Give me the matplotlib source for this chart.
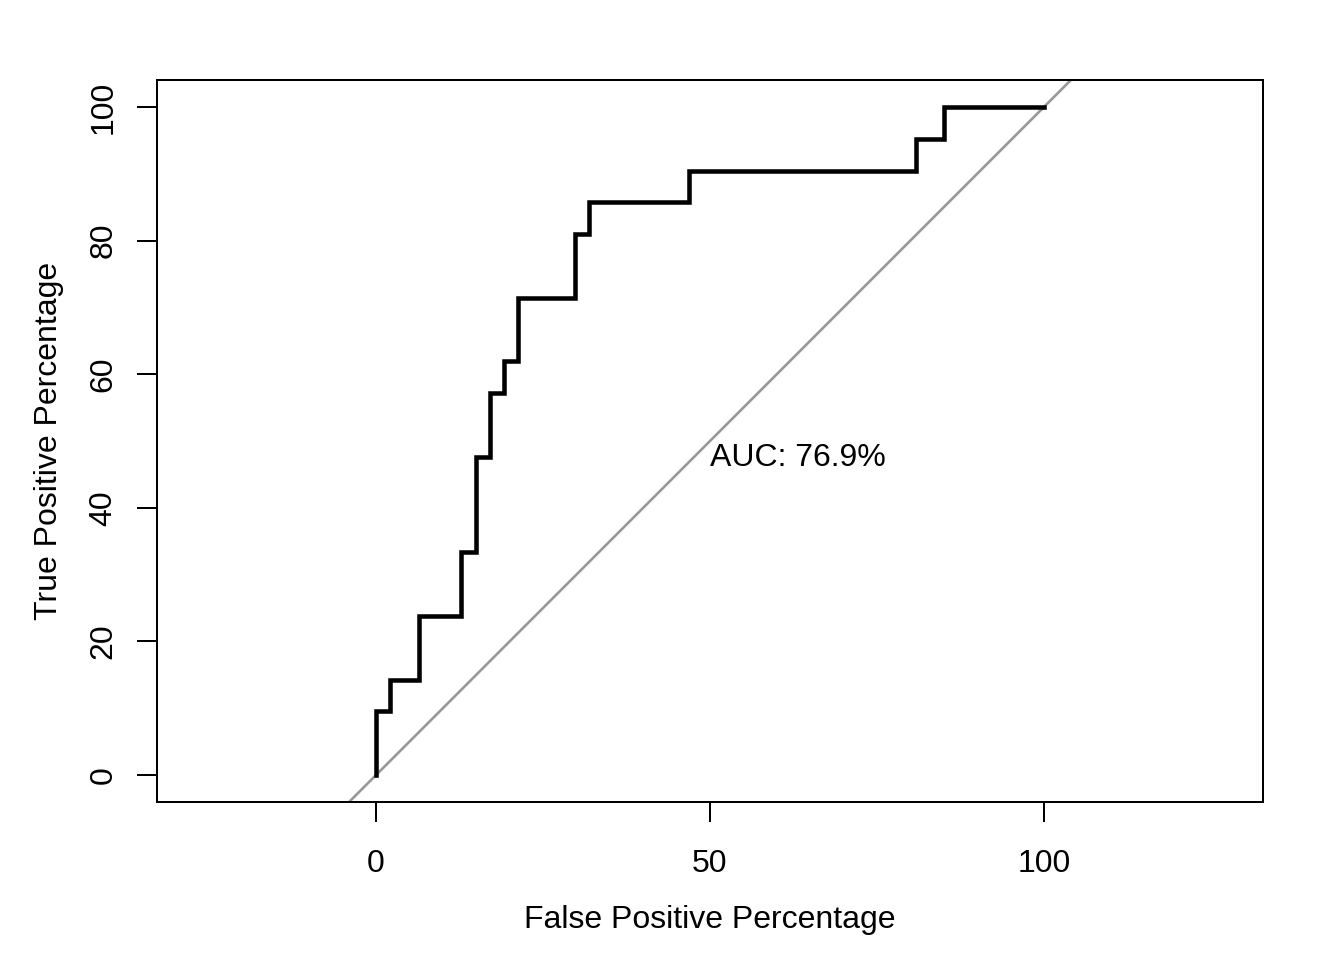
import numpy as np
import matplotlib
matplotlib.use("Agg")
import matplotlib.pyplot as plt

plt.rcParams["font.family"] = ["Liberation Sans", "DejaVu Sans"]

# ROC step points: 47 negatives, 21 positives
N_NEG = 47
N_POS = 21
fp_counts = [0, 0, 1, 1, 3, 3, 6, 6, 7, 7, 8, 8, 9, 9, 10, 10, 14, 14, 15, 15,
             22, 22, 38, 38, 40, 40, 47]
tp_counts = [0, 2, 2, 3, 3, 5, 5, 7, 7, 10, 10, 12, 12, 13, 13, 15, 15, 17, 17,
             18, 18, 19, 19, 20, 20, 21, 21]
AUC_LABEL = "AUC: 76.9%"

x_ticks = [0, 50, 100]
y_ticks = [0, 20, 40, 60, 80, 100]


def main():
    fpr = np.array(fp_counts) / N_NEG * 100
    tpr = np.array(tp_counts) / N_POS * 100

    fig = plt.figure(figsize=(7, 5), dpi=192)
    ax = fig.add_axes([157 / 1344, 1 - 802 / 960, (1263 - 157) / 1344, (802 - 80) / 960])

    ax.set_xlim(-32.8, 132.8)
    ax.set_ylim(-4.04, 104.04)

    # diagonal reference line
    ax.plot([-10, 110], [-10, 110], color="#999999", lw=1.0, zorder=1)
    ax.plot(fpr, tpr, color="black", lw=1.7, zorder=2, solid_joinstyle="miter")

    ax.text(50, 49.7, AUC_LABEL, ha="left", va="top", fontsize=12)

    ax.set_xticks(x_ticks)
    ax.set_yticks(y_ticks)
    ax.set_yticklabels([str(t) for t in y_ticks], rotation=90, va="center")
    ax.tick_params(axis="both", length=7.5, width=0.75, labelsize=12, pad=10)
    ax.tick_params(axis="y", pad=7)
    for sp in ax.spines.values():
        sp.set_linewidth(0.75)

    ax.set_xlabel("False Positive Percentage", fontsize=12, labelpad=10)
    ax.set_ylabel("True Positive Percentage", fontsize=12, labelpad=9)

    fig.savefig("out.png", dpi=192)


if __name__ == "__main__":
    main()
